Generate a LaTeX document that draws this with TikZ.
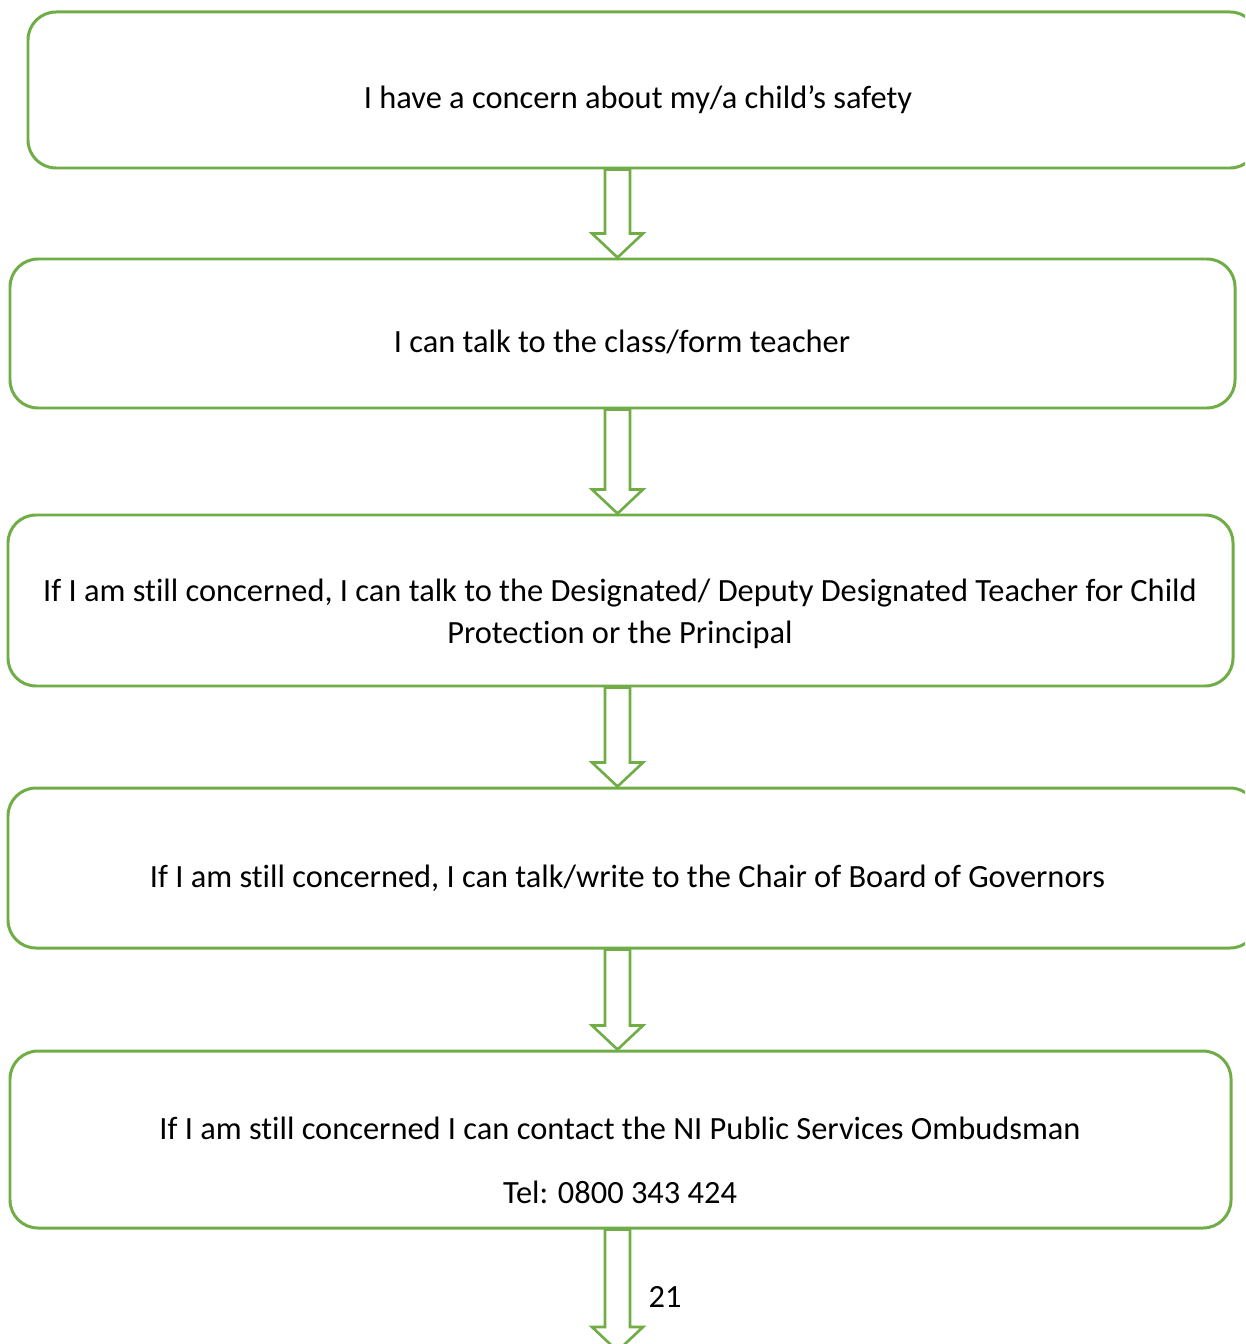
\documentclass[tikz,border=0pt]{standalone}
\usepackage{fontspec}
\setmainfont[Ligatures=NoCommon]{Carlito}
\usetikzlibrary{fit}
\definecolor{flowgreen}{HTML}{70AD47}
\begin{document}
\begin{tikzpicture}[x=0.02cm,y=-0.02cm,
    flowbox/.style={draw=flowgreen,line width=1.7pt,rounded corners=0.56cm,inner sep=0pt},
    flowtext/.style={anchor=base,inner sep=0pt,font=\fontsize{18.45}{23.9}\selectfont,align=center},
    flowarrow/.style={draw=flowgreen,line width=1.5pt,fill=white,line join=miter}]
        \clip (0,0) rectangle (1245,1344);
        \fill[white] (0,0) rectangle (1245,1344);

        % the five boxes
        \node [flowbox, fit={(28,12) (1258,168)}]   (concern) {};
        \node [flowbox, fit={(10,259) (1235,408)}]  (teacher) {};
        \node [flowbox, fit={(8,515) (1233,686)}]   (designated) {};
        \node [flowbox, fit={(8,788) (1258,948)}]   (governors) {};
        \node [flowbox, fit={(10,1051) (1231,1228)}] (ombudsman) {};
        \coordinate (pageend) at (617.5,1351);

        \node [flowtext] (concerntext) at (638,109) {I have a concern about my/a child’s safety};
        \node [flowtext] (teachertext) at (622,353) {I can talk to the class/form teacher};
        \node [flowtext] (designatedtext) at (620,643) {If I am still concerned, I can talk to the Designated/ Deputy Designated Teacher for Child\\Protection or the Principal};
        \node [flowtext] (governorstext) at (627.5,887) {If I am still concerned, I can talk/write to the Chair of Board of Governors};
        \node [flowtext] (ombudsmantext) at (620,1139) {If I am still concerned I can contact the NI Public Services Ombudsman};
        \node [flowtext] (teltext) at (620,1203) {Tel: 0800 343 424};

        % block arrows between the boxes
        \foreach \a/\b in {concern.south/teacher.north, teacher.south/designated.north,
            designated.south/governors.north, governors.south/ombudsman.north, ombudsman.south/pageend}{
            \draw [flowarrow] (\a -| 605,0) -- ([yshift=0.48cm]\b -| 605,0) -- ([yshift=0.48cm]\b -| 592,0)
                -- (\b -| 617.5,0) -- ([yshift=0.48cm]\b -| 643,0) -- ([yshift=0.48cm]\b -| 630,0)
                -- (\a -| 630,0) -- cycle;
        }

        \node [flowtext] (pagenum) at (665,1307) {21};
    \end{tikzpicture}
\end{document}
